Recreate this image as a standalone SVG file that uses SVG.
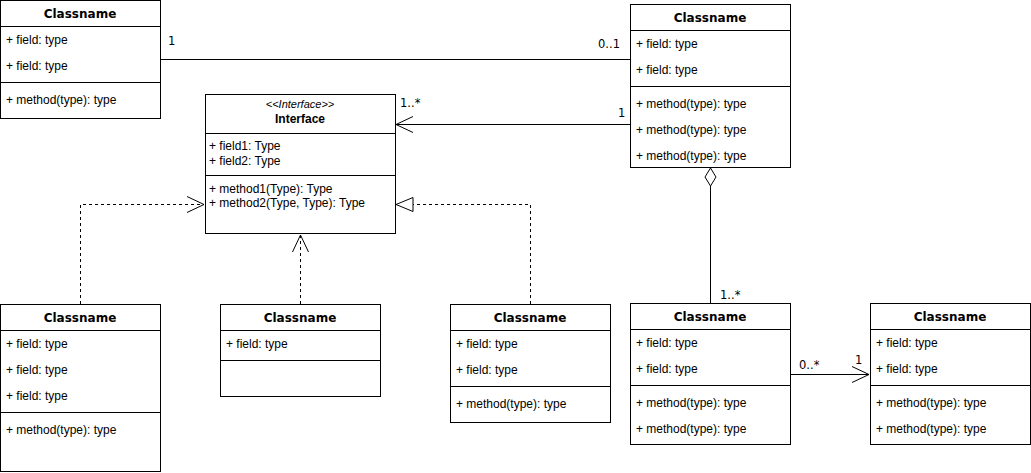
<svg xmlns="http://www.w3.org/2000/svg" width="1031" height="473" viewBox="0 0 1031 473">
<style>
.box{fill:#fff;stroke:#000;stroke-width:1}
.sep{stroke:#000;stroke-width:1}
.t{font-family:"DejaVu Sans",Verdana,sans-serif;font-weight:bold;font-size:12px;text-anchor:middle;fill:#000}
.f{font-family:"Liberation Sans",Arial,sans-serif;font-size:12px;fill:#000}
.l{font-family:"DejaVu Sans",Verdana,sans-serif;font-size:11.5px;fill:#000}
.ln{fill:none;stroke:#000;stroke-width:1}
.d{fill:none;stroke:#000;stroke-width:1;stroke-dasharray:3 3}
</style>
<rect width="1031" height="473" fill="#fff"/>
<g id="connectors">
<line class="ln" x1="160" y1="59.5" x2="630" y2="59.5"/>
<line class="ln" x1="630" y1="124.5" x2="396" y2="124.5"/>
<polyline class="ln" points="413,116.5 396,124.5 413,132.5"/>
<polyline class="d" points="80.5,304 80.5,204.5 204,204.5"/>
<polyline class="ln" points="187,196.5 204,204.5 187,212.5"/>
<line class="d" x1="300.5" y1="304" x2="300.5" y2="235"/>
<polyline class="ln" points="292.5,252 300.5,235 308.5,252"/>
<polyline class="d" points="530.5,304 530.5,204.5 413,204.5"/>
<polygon class="ln" points="396,204.5 413,197.5 413,211.5" fill="#fff"/>
<line class="ln" x1="710.5" y1="186" x2="710.5" y2="303"/>
<polygon class="ln" points="710.5,168 716,177 710.5,186 705,177" fill="#fff"/>
<line class="ln" x1="790" y1="374.5" x2="869" y2="374.5"/>
<polyline class="ln" points="852,366.5 869,374.5 852,382.5"/>
<text class="l" x="168" y="45">1</text>
<text class="l" x="598" y="48">0..1</text>
<text class="l" x="618" y="117">1</text>
<text class="l" x="400" y="107">1..*</text>
<text class="l" x="720" y="299">1..*</text>
<text class="l" x="799" y="369">0..*</text>
<text class="l" x="855" y="364">1</text>
</g>
<g id="class1">
<rect class="box" x="0.5" y="0.5" width="160" height="118"/>
<line class="sep" x1="0.5" y1="26.5" x2="160.5" y2="26.5"/>
<line class="sep" x1="0.5" y1="82.5" x2="160.5" y2="82.5"/>
<text class="t" x="80" y="18">Classname</text>
<text class="f" x="6" y="44">+ field: type</text>
<text class="f" x="6" y="70">+ field: type</text>
<text class="f" x="6" y="104">+ method(type): type</text>
</g>
<g id="class2">
<rect class="box" x="630.5" y="4.5" width="160" height="163"/>
<line class="sep" x1="630.5" y1="30.5" x2="790.5" y2="30.5"/>
<line class="sep" x1="630.5" y1="86.5" x2="790.5" y2="86.5"/>
<text class="t" x="710" y="22">Classname</text>
<text class="f" x="636" y="48">+ field: type</text>
<text class="f" x="636" y="74">+ field: type</text>
<text class="f" x="636" y="108">+ method(type): type</text>
<text class="f" x="636" y="134">+ method(type): type</text>
<text class="f" x="636" y="160">+ method(type): type</text>
</g>
<g id="interface">
<rect class="box" x="205.5" y="94.5" width="190" height="139"/>
<line class="sep" x1="205.5" y1="133.5" x2="395.5" y2="133.5"/>
<line class="sep" x1="205.5" y1="175.5" x2="395.5" y2="175.5"/>
<text x="300" y="108" font-family="Liberation Sans,Arial,sans-serif" font-style="italic" font-size="11" text-anchor="middle">&lt;&lt;Interface&gt;&gt;</text>
<text x="300" y="123" font-family="Liberation Sans,Arial,sans-serif" font-weight="bold" font-size="12" text-anchor="middle">Interface</text>
<text class="f" x="209" y="150">+ field1: Type</text>
<text class="f" x="209" y="165">+ field2: Type</text>
<text class="f" x="209" y="193">+ method1(Type): Type</text>
<text class="f" x="209" y="207">+ method2(Type, Type): Type</text>
</g>
<g id="class3">
<rect class="box" x="0.5" y="304.5" width="160" height="167"/>
<line class="sep" x1="0.5" y1="330.5" x2="160.5" y2="330.5"/>
<line class="sep" x1="0.5" y1="412.5" x2="160.5" y2="412.5"/>
<text class="t" x="80" y="322">Classname</text>
<text class="f" x="6" y="348">+ field: type</text>
<text class="f" x="6" y="374">+ field: type</text>
<text class="f" x="6" y="400">+ field: type</text>
<text class="f" x="6" y="434">+ method(type): type</text>
</g>
<g id="class4">
<rect class="box" x="220.5" y="304.5" width="160" height="92"/>
<line class="sep" x1="220.5" y1="330.5" x2="380.5" y2="330.5"/>
<line class="sep" x1="220.5" y1="360.5" x2="380.5" y2="360.5"/>
<text class="t" x="300" y="322">Classname</text>
<text class="f" x="226" y="348">+ field: type</text>
</g>
<g id="class5">
<rect class="box" x="450.5" y="304.5" width="160" height="118"/>
<line class="sep" x1="450.5" y1="330.5" x2="610.5" y2="330.5"/>
<line class="sep" x1="450.5" y1="386.5" x2="610.5" y2="386.5"/>
<text class="t" x="530" y="322">Classname</text>
<text class="f" x="456" y="348">+ field: type</text>
<text class="f" x="456" y="374">+ field: type</text>
<text class="f" x="456" y="408">+ method(type): type</text>
</g>
<g id="class6">
<rect class="box" x="630.5" y="303.5" width="160" height="141"/>
<line class="sep" x1="630.5" y1="329.5" x2="790.5" y2="329.5"/>
<line class="sep" x1="630.5" y1="385.5" x2="790.5" y2="385.5"/>
<text class="t" x="710" y="321">Classname</text>
<text class="f" x="636" y="347">+ field: type</text>
<text class="f" x="636" y="373">+ field: type</text>
<text class="f" x="636" y="407">+ method(type): type</text>
<text class="f" x="636" y="433">+ method(type): type</text>
</g>
<g id="class7">
<rect class="box" x="870.5" y="303.5" width="160" height="141"/>
<line class="sep" x1="870.5" y1="329.5" x2="1030.5" y2="329.5"/>
<line class="sep" x1="870.5" y1="385.5" x2="1030.5" y2="385.5"/>
<text class="t" x="950" y="321">Classname</text>
<text class="f" x="876" y="347">+ field: type</text>
<text class="f" x="876" y="373">+ field: type</text>
<text class="f" x="876" y="407">+ method(type): type</text>
<text class="f" x="876" y="433">+ method(type): type</text>
</g>
</svg>
